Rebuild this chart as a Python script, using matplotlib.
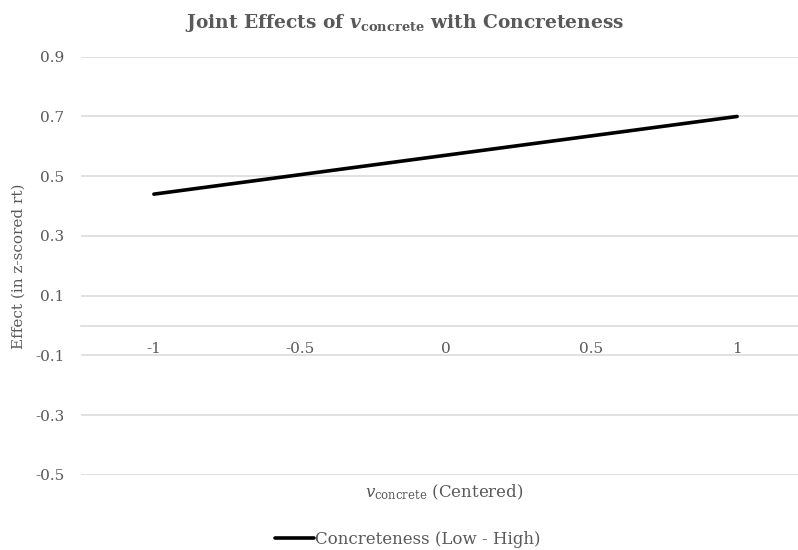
import matplotlib
matplotlib.use("Agg")
import matplotlib.pyplot as plt

# values
centered = ["-1", "-0.5", "0", "0.5", "1"]
effect = [0.44, 0.505, 0.57, 0.635, 0.70]
y_ticks = [-0.5, -0.3, -0.1, 0.1, 0.3, 0.5, 0.7, 0.9]

grey = "#595959"
grid_grey = "#d9d9d9"

plt.rcParams["font.family"] = ["DejaVu Serif"]
plt.rcParams["mathtext.fontset"] = "custom"
plt.rcParams["mathtext.rm"] = "DejaVu Serif"
plt.rcParams["mathtext.it"] = "DejaVu Serif:italic"
plt.rcParams["mathtext.bf"] = "DejaVu Serif:bold"
plt.rcParams["mathtext.bfit"] = "DejaVu Serif:italic:bold"

fig = plt.figure(figsize=(7.98, 5.5), dpi=100)
# plot area (right edge runs a bit past the picture, like the reference)
ax = fig.add_axes([81 / 798, 75 / 550, 729 / 798, 418.3 / 550])

xs = list(range(len(centered)))
ax.plot(xs, effect, color="black", lw=2.6, solid_capstyle="round",
        label="Concreteness (Low - High)")

ax.set_xlim(-0.5, len(centered) - 0.5)
ax.set_ylim(-0.5, 0.9)
ax.set_yticks(y_ticks)
ax.set_yticklabels([f"{v:g}" for v in y_ticks])
ax.set_xticks(xs)
ax.set_xticklabels(centered)

ax.grid(axis="y", color=grid_grey, lw=1.1)
ax.set_axisbelow(True)
for s in ["top", "right", "left"]:
    ax.spines[s].set_visible(False)
ax.spines["bottom"].set_position(("data", 0))
ax.spines["bottom"].set_color(grid_grey)
ax.spines["bottom"].set_linewidth(1.1)
ax.tick_params(axis="both", length=0, labelsize=11, labelcolor=grey)
ax.tick_params(axis="x", pad=12)
ax.tick_params(axis="y", pad=12)

ax.set_ylabel("Effect (in z-scored rt)", fontsize=11, color=grey)
ax.yaxis.set_label_coords(-0.076, 0.5)

fig.text(444 / 798, 1 - 492 / 550,
         r"$\mathit{v}_{\mathrm{concrete}}$ (Centered)",
         ha="center", va="center", fontsize=12, color=grey)

fig.text(405 / 798, 1 - 23 / 550,
         r"Joint Effects of $\mathbfit{v}_{\mathbf{concrete}}$ with Concreteness",
         ha="center", va="center", fontsize=13.4, fontweight="bold", color=grey)

leg = fig.legend(loc="center", bbox_to_anchor=(408 / 798, 1 - 539 / 550),
                 frameon=False, fontsize=12, handlelength=2.3,
                 handletextpad=0.1, labelcolor=grey)

fig.savefig("out.png", dpi=100)
